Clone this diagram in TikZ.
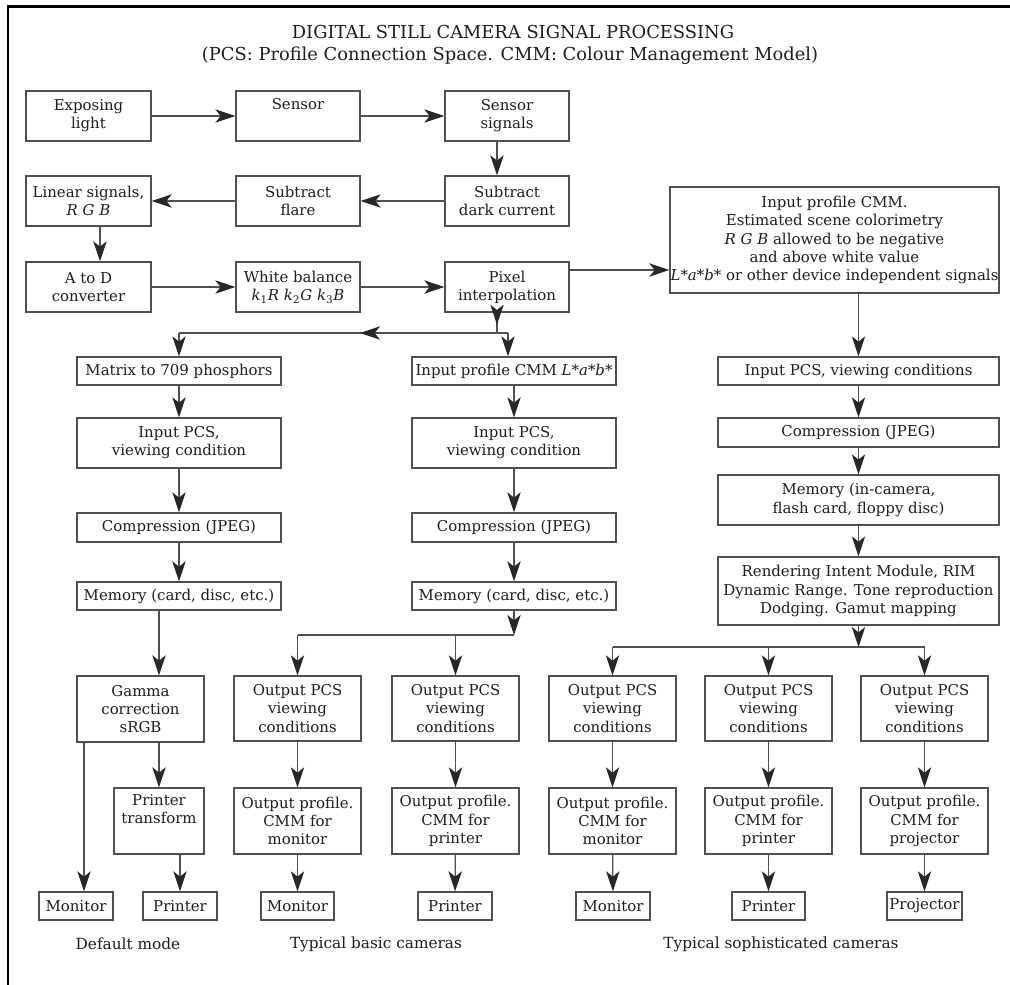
\documentclass[tikz,border=0pt]{standalone}
\usepackage{fontspec}
\setmainfont{DejaVu Serif}
\usetikzlibrary{arrows.meta,decorations.markings}
\definecolor{lc}{RGB}{80,80,80}
\definecolor{tc}{RGB}{30,30,30}
\definecolor{ac}{RGB}{40,40,40}
\begin{document}
\begin{tikzpicture}[x=0.75pt,y=-0.75pt,
  >={Stealth[length=15pt,width=10pt,inset=4pt,color=ac]},
  bx/.style 2 args={draw=lc, line width=1pt, minimum width=#1*0.75pt, minimum height=#2*0.75pt, inner sep=0pt, align=center, text=tc, font=\fontsize{11.2}{13.6}\selectfont},
  ln/.style={draw=lc, line width=1pt},
  arr/.style={ln,->},
  tipat/.style={postaction={decorate}, decoration={markings, mark=at position #1 with {\arrow{>}}}},
  lab/.style={text=tc, font=\fontsize{11.5}{14}\selectfont},
  ttl/.style={text=tc, font=\fontsize{13.4}{16}\selectfont}
]
\useasboundingbox (0,0) rectangle (1010,985);
\fill[white] (0,0) rectangle (1010,985);
\draw[line width=2.2pt, black] (8,985) -- (8,6.5) -- (1010,6.5);

\node[ttl] (title) at (513,32) {DIGITAL STILL CAMERA SIGNAL PROCESSING};
\node[ttl] (sub) at (510,56) {(PCS: Profile Connection Space. CMM: Colour Management Model)};

% top rows
\node[bx={125}{50}] (expo) at (88.5,116) {Exposing\\light};
\node[bx={124}{50}] (sensor) at (298,116) {Sensor\\\strut};
\node[bx={124}{50}] (sigs) at (507,116) {Sensor\\signals};
\node[bx={125}{50}] (lin) at (88.5,201) {Linear signals,\\\textit{R G B}};
\node[bx={124}{50}] (flare) at (298,201) {Subtract\\flare};
\node[bx={124}{50}] (dark) at (507,201) {Subtract\\dark current};
\node[bx={125}{50}] (atod) at (88.5,287) {A to D\\converter};
\node[bx={124}{50}] (wb) at (298,287) {White balance\\\textit{k}\textsubscript{1}\textit{R} \textit{k}\textsubscript{2}\textit{G} \textit{k}\textsubscript{3}\textit{B}};
\node[bx={124}{50}] (pix) at (507,287) {Pixel\\interpolation};
\node[bx={329}{106}] (icmm) at (834.5,240) {Input profile CMM.\\Estimated scene colorimetry\\\textit{R G B} allowed to be negative\\and above white value\\\textit{L*a*b*} or other device independent signals};

% left column
\node[bx={204}{28}] (mat) at (179,371) {Matrix to 709 phosphors};
\node[bx={204}{50}] (lpcs) at (179,443) {Input PCS,\\viewing condition};
\node[bx={204}{29}] (lcomp) at (179,527.5) {Compression (JPEG)};
\node[bx={204}{28}] (lmem) at (179,596) {Memory (card, disc, etc.)};

% middle column
\node[bx={204}{28}] (mcmm) at (514,371) {Input profile CMM \textit{L*a*b*}};
\node[bx={204}{50}] (mpcs) at (514,443) {Input PCS,\\viewing condition};
\node[bx={204}{29}] (mcomp) at (514,527.5) {Compression (JPEG)};
\node[bx={204}{28}] (mmem) at (514,596) {Memory (card, disc, etc.)};

% right column
\node[bx={281}{28}] (rpcs) at (858.5,371) {Input PCS, viewing conditions};
\node[bx={281}{29}] (rcomp) at (858.5,432.5) {Compression (JPEG)};
\node[bx={281}{50}] (rmem) at (858.5,500) {Memory (in-camera,\\flash card, floppy disc)};
\node[bx={281}{68}] (rim) at (858.5,591) {Rendering Intent Module, RIM\\Dynamic Range. Tone reproduction\\Dodging. Gamut mapping};

% bottom: default
\node[bx={127}{66}] (gamma) at (140.5,709) {Gamma\\correction\\sRGB};
\node[bx={90}{66}] (ptr) at (159,821) {Printer\\transform\\\strut};
\node[bx={74}{28}] (dmon) at (76,906) {Monitor};
\node[bx={74}{28}] (dprn) at (180,906) {Printer};

% bottom: basic
\node[bx={127}{65}] (b1pcs) at (297.5,708.5) {Output PCS\\viewing\\conditions};
\node[bx={127}{65}] (b2pcs) at (455.5,708.5) {Output PCS\\viewing\\conditions};
\node[bx={127}{66}] (b1out) at (297.5,821) {Output profile.\\CMM for\\monitor};
\node[bx={127}{66}] (b2out) at (455.5,821) {Output profile.\\CMM for\\printer};
\node[bx={73}{28}] (b1mon) at (297.5,906) {Monitor};
\node[bx={74}{28}] (b2prn) at (455,906) {Printer};

% bottom: sophisticated
\node[bx={127}{65}] (s1pcs) at (612.5,708.5) {Output PCS\\viewing\\conditions};
\node[bx={127}{65}] (s2pcs) at (768.5,708.5) {Output PCS\\viewing\\conditions};
\node[bx={127}{65}] (s3pcs) at (924.5,708.5) {Output PCS\\viewing\\conditions};
\node[bx={127}{66}] (s1out) at (612.5,821) {Output profile.\\CMM for\\monitor};
\node[bx={127}{66}] (s2out) at (768.5,821) {Output profile.\\CMM for\\printer};
\node[bx={127}{66}] (s3out) at (924.5,821) {Output profile.\\CMM for\\projector};
\node[bx={74}{28}] (s1mon) at (613,906) {Monitor};
\node[bx={73}{28}] (s2prn) at (768.5,906) {Printer};
\node[bx={75}{28}] (s3prj) at (924.5,906) {Projector};

% labels
\node[lab] (l1) at (128,944) {Default mode};
\node[lab] (l2) at (376,944) {Typical basic cameras};
\node[lab] (l3) at (781,944) {Typical sophisticated cameras};

% junction coordinates
\coordinate (j1) at (497,333);
\coordinate (jR) at (508,333);
\coordinate (jL) at (179,333);
\coordinate (jM) at (514,635);
\coordinate (jMl) at (297.5,635);
\coordinate (jMr) at (455.5,635);
\coordinate (jS) at (858.5,647);
\coordinate (jS1) at (612.5,647);
\coordinate (jS2) at (768.5,647);
\coordinate (jS3) at (924.5,647);

% top connectors
\draw[arr] (expo.east) -- (sensor.west);
\draw[arr] (sensor.east) -- (sigs.west);
\draw[arr] ([xshift=-7.5pt]sigs.south) -- ([xshift=-7.5pt]dark.north);
\draw[arr] (dark.west) -- (flare.east);
\draw[arr] (flare.west) -- (lin.east);
\draw[arr] ([xshift=8.6pt]lin.south) -- ([xshift=8.6pt]atod.north);
\draw[arr] (atod.east) -- (wb.west);
\draw[arr] (wb.east) -- (pix.west);
\draw[arr] ([yshift=12.75pt]pix.east) -- ([yshift=12.75pt]pix.east -| icmm.west);

% branch from pixel interpolation
\draw[ln, tipat=9pt] ([xshift=-7.5pt]pix.south) -- (j1) -- (jR);
\draw[ln, tipat=0.45] (jR) -- (jL);
\draw[arr] (jL) -- (mat.north);
\draw[arr] (jR) -- (jR |- mcmm.north);

% left column
\draw[arr] (mat) -- (lpcs);
\draw[arr] (lpcs) -- (lcomp);
\draw[arr] (lcomp) -- (lmem);
\draw[arr] ([xshift=-15pt]lmem.south) -- ([xshift=-15pt]lmem.south |- gamma.north);
\draw[arr] (ptr.north |- gamma.south) -- (ptr.north);
\draw[arr] ([xshift=6pt]dmon.north |- gamma.south) -- ([xshift=6pt]dmon.north);
\draw[arr] (dprn.north |- ptr.south) -- (dprn.north);

% middle column
\draw[arr] (mcmm) -- (mpcs);
\draw[arr] (mpcs) -- (mcomp);
\draw[arr] (mcomp) -- (mmem);
\draw[arr] (mmem.south) -- (jM);
\draw[ln] (jM) -- (jMl);
\draw[arr] (jMl) -- (b1pcs.north);
\draw[arr] (jMr) -- (b2pcs.north);
\draw[arr] (b1pcs) -- (b1out);
\draw[arr] (b2pcs) -- (b2out);
\draw[arr] (b1out) -- (b1mon);
\draw[arr] (b2out) -- (b2prn);

% right column
\draw[arr] (rpcs.north |- icmm.south) -- (rpcs.north);
\draw[arr] (rpcs) -- (rcomp);
\draw[arr] (rcomp) -- (rmem);
\draw[arr] (rmem) -- (rim);
\draw[arr] (rim.south) -- (jS);
\draw[ln] (jS1) -- (jS3);
\draw[arr] (jS1) -- (s1pcs.north);
\draw[arr] (jS2) -- (s2pcs.north);
\draw[arr] (jS3) -- (s3pcs.north);
\draw[arr] (s1pcs) -- (s1out);
\draw[arr] (s2pcs) -- (s2out);
\draw[arr] (s3pcs) -- (s3out);
\draw[arr] (s1out) -- (s1mon);
\draw[arr] (s2out) -- (s2prn);
\draw[arr] (s3out) -- (s3prj);
\end{tikzpicture}
\end{document}
